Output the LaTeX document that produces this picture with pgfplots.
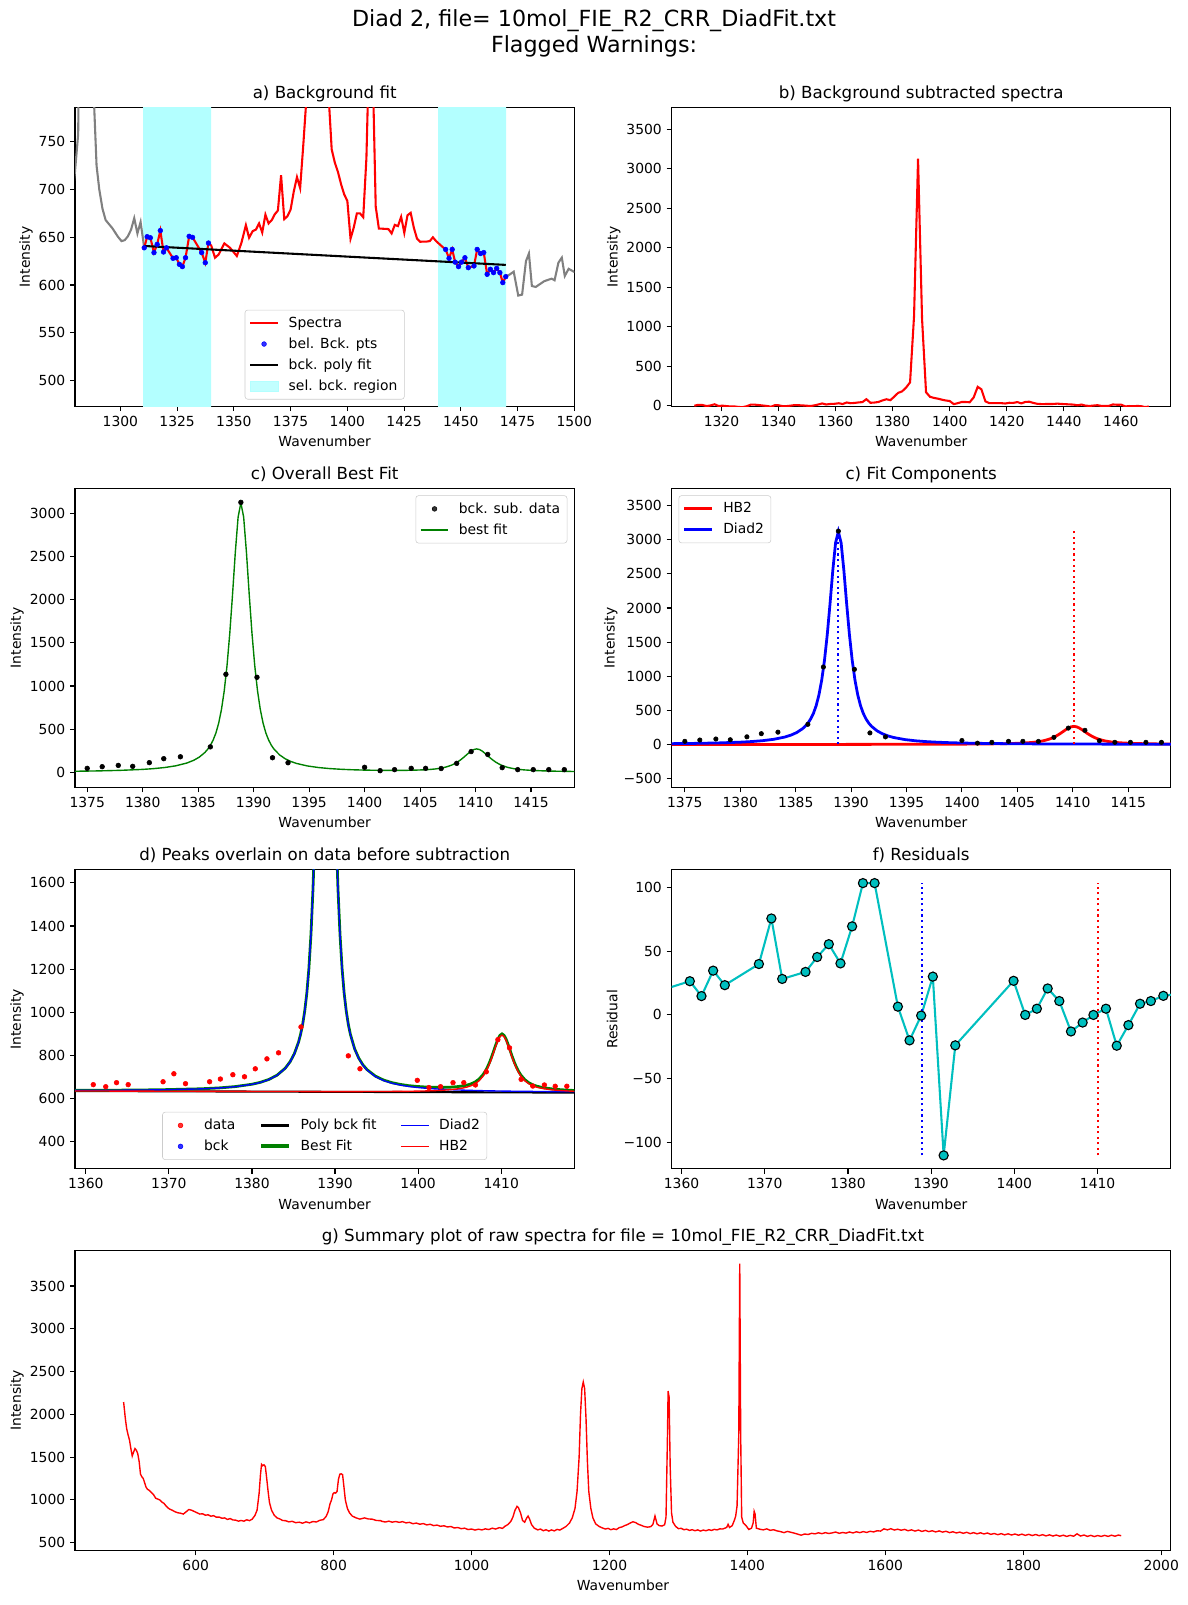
\documentclass[border=0pt]{standalone}
\usepackage{fontspec}
\setmainfont{DejaVu Sans}
\usepackage{pgfplots}
\usepackage{pgfplotstable}
\pgfplotsset{compat=1.18}

\definecolor{mplcyan}{HTML}{00BFBF}
\definecolor{bckband}{HTML}{B3FFFF}
\definecolor{mplgreen}{HTML}{008000}
\definecolor{mplgray}{HTML}{808080}
\definecolor{legendedge}{HTML}{CCCCCC}

\newcommand{\tickfont}{\fontsize{10}{12}\selectfont}

% legend handles 20pt long; a mark-only series shows one mark in the middle
\pgfplotsset{legend image code/.code={%
  \path[draw=none, fill=none] (0pt,-1pt) rectangle (20pt,1pt);
  \draw[mark repeat=2,mark phase=2,#1] plot coordinates {(0pt,0pt) (10pt,0pt) (20pt,0pt)};}}

% fitted model on a common grid: x, Diad2 (D), HB2 (H), sum (F), polynomial background (P),
% and the same components with the background added (DP, HP, FP)
\pgfplotstableread{
x D H F P DP HP FP
1358.7 2.9 0.2 3.1 635.1 638.0 635.3 638.2
1363.85 4.2 0.25 4.5 634.4 638.6 634.7 638.9
1368.85 6.6 0.3 6.9 633.8 640.4 634.1 640.7
1373.85 11.7 0.37 12.1 633.2 644.9 633.6 645.3
1376.0 15.9 0.4 16.3 632.9 648.8 633.3 649.2
1378.0 22.3 0.45 22.8 632.7 655.0 633.2 655.5
1380.0 33.4 0.5 33.9 632.5 665.9 633.0 666.4
1381.0 42.2 0.55 42.8 632.3 674.5 632.9 675.1
1382.0 55.2 0.6 55.8 632.2 687.4 632.8 688.0
1383.0 75.0 0.65 75.7 632.1 707.1 632.8 707.8
1384.0 107.7 0.7 108.4 632.0 739.7 632.7 740.4
1384.6 138.4 0.75 139.2 631.9 770.3 632.7 771.1
1385.1 175.2 0.8 176.0 631.8 807.0 632.6 807.8
1385.6 228.4 0.8 229.2 631.8 860.2 632.6 861.0
1385.85 265 0.8 265.8 631.7 896.7 632.5 897.5
1386.1 311 0.8 311.8 631.7 942.7 632.5 943.5
1386.35 373 0.8 373.8 631.7 1004.7 632.5 1005.5
1386.6 455 0.8 455.8 631.6 1086.6 632.4 1087.4
1386.85 569 0.8 569.8 631.6 1200.6 632.4 1201.4
1387.1 727 0.9 727.9 631.6 1358.6 632.5 1359.5
1387.35 943 0.9 943.9 631.6 1574.6 632.5 1575.5
1387.6 1234 0.9 1234.9 631.5 1865.5 632.4 1866.4
1387.85 1610 0.9 1610.9 631.5 2241.5 632.4 2242.4
1388.1 2063 0.9 2063.9 631.5 2694.5 632.4 2695.4
1388.35 2550 0.9 2550.9 631.4 3181.4 632.3 3182.3
1388.6 2956 0.9 2956.9 631.4 3587.4 632.3 3588.3
1388.85 3120 0.9 3120.9 631.4 3751.4 632.3 3752.3
1389.1 2956 0.9 2956.9 631.4 3587.4 632.3 3588.3
1389.35 2550 0.9 2550.9 631.3 3181.3 632.2 3182.2
1389.6 2063 1.0 2064.0 631.3 2694.3 632.3 2695.3
1389.85 1610 1.0 1611.0 631.3 2241.3 632.3 2242.3
1390.1 1234 1.0 1235.0 631.2 1865.2 632.2 1866.2
1390.35 943 1.0 944.0 631.2 1574.2 632.2 1575.2
1390.6 727 1.1 728.1 631.2 1358.2 632.3 1359.3
1390.85 569 1.1 570.1 631.2 1200.2 632.3 1201.3
1391.1 455 1.1 456.1 631.1 1086.1 632.2 1087.2
1391.35 373 1.2 374.2 631.1 1004.1 632.3 1005.3
1391.6 311 1.2 312.2 631.1 942.1 632.3 943.3
1391.85 265 1.4 266.4 631.0 896.0 632.4 897.4
1392.35 199 1.5 200.5 631.0 830.0 632.5 831.5
1392.85 155 1.6 156.6 630.9 785.9 632.5 787.5
1393.35 124 1.7 125.7 630.8 754.8 632.5 756.5
1393.85 101.6 1.8 103.4 630.8 732.4 632.6 734.2
1394.85 71.5 2.0 73.5 630.6 702.1 632.6 704.1
1395.85 52.9 2.3 55.2 630.5 683.4 632.8 685.7
1396.85 40.7 2.6 43.3 630.4 671.1 633.0 673.7
1397.85 32.3 3.0 35.3 630.3 662.6 633.3 665.6
1398.85 26.2 3.5 29.7 630.1 656.3 633.6 659.8
1399.85 21.7 4.5 26.2 630.0 651.7 634.5 656.2
1400.85 18.3 5.4 23.7 629.9 648.2 635.3 653.6
1401.85 15.6 6.8 22.4 629.8 645.4 636.6 652.2
1402.85 13.4 8.7 22.1 629.6 643.0 638.3 651.7
1403.85 11.7 11.5 23.2 629.5 641.2 641.0 652.7
1404.6 10.7 14.7 25.4 629.4 640.1 644.1 654.8
1405.35 9.8 19.3 29.1 629.4 639.2 648.7 658.5
1405.85 9.1 23.7 32.8 629.3 638.4 653.0 662.1
1406.35 8.7 29.9 38.6 629.2 637.9 659.1 667.8
1406.85 8.2 39.3 47.5 629.2 637.4 668.5 676.7
1407.35 7.8 53.8 61.6 629.1 636.9 682.9 690.7
1407.85 7.3 76.3 83.6 629.1 636.4 705.4 712.7
1408.1 7.1 91.8 98.9 629.0 636.1 720.8 727.9
1408.35 7.0 110.4 117.4 629.0 636.0 739.4 746.4
1408.6 6.8 132.5 139.3 629.0 635.8 761.5 768.3
1408.85 6.6 157.9 164.5 628.9 635.5 786.8 793.4
1409.1 6.5 186.0 192.5 628.9 635.4 814.9 821.4
1409.35 6.4 214.2 220.6 628.9 635.3 843.1 849.5
1409.6 6.3 240.0 246.3 628.8 635.1 868.8 875.1
1409.85 6.1 258.3 264.4 628.8 634.9 887.1 893.2
1410.1 6.0 265.0 271.0 628.8 634.8 893.8 899.8
1410.35 5.9 258.3 264.2 628.7 634.6 887.0 892.9
1410.6 5.8 240.0 245.8 628.7 634.5 868.7 874.5
1410.85 5.7 214.2 219.9 628.7 634.4 842.9 848.6
1411.1 5.6 186.0 191.6 628.6 634.2 814.6 820.2
1411.35 5.5 157.9 163.4 628.6 634.1 786.5 792.0
1411.6 5.4 132.5 137.9 628.6 634.0 761.1 766.5
1411.85 5.3 110.4 115.7 628.5 633.8 738.9 744.2
1412.1 5.2 91.8 97.0 628.5 633.7 720.3 725.5
1412.35 5.1 76.3 81.4 628.5 633.6 704.8 709.9
1412.85 5.0 53.8 58.8 628.4 633.4 682.2 687.2
1413.35 4.9 39.3 44.2 628.4 633.3 667.7 672.6
1413.85 4.7 29.9 34.6 628.3 633.0 658.2 662.9
1414.35 4.6 23.7 28.3 628.3 632.9 652.0 656.6
1415.1 4.4 17.5 21.9 628.2 632.6 645.7 650.1
1416.1 4.2 12.5 16.7 628.1 632.3 640.6 644.8
1417.1 4.0 9.3 13.3 627.9 631.9 637.2 641.2
1418.1 3.8 7.2 11.0 627.8 631.6 635.0 638.8
1418.9 3.6 6.0 9.6 627.7 631.3 633.7 637.3
}\fitgrid

% background-subtracted points used in the fit
\pgfplotstableread{
x y
1375.0 46
1376.35 65
1377.8 80
1379.1 69
1380.6 112
1381.9 158
1383.4 180
1386.1 295
1387.5 1135
1388.85 3127
1390.3 1101
1391.7 169
1393.1 111
1400.0 58
1401.4 19
1402.7 31
1404.2 46
1405.5 46
1406.9 44
1408.3 104
1409.6 240
1411.1 207
1412.4 54
1413.8 31
1415.2 31
1416.6 31
1418.0 31
}\subdata

\pgfplotsset{
  panel/.style={
    scale only axis, width=359.5pt, height=215.3pt, anchor=north west,
    axis line style={line width=0.8pt},
    tick style={black, line width=0.8pt},
    tick align=outside, tick pos=left,
    major tick length=3.5pt,
    tick label style={font=\tickfont},
    label style={font=\tickfont},
    ylabel style={inner sep=0.8pt},
    title style={font=\fontsize{12}{14}\selectfont, at={(0.5,1)}, anchor=base, yshift=0.5pt},
    /pgf/number format/assume math mode=true,
    /pgf/number format/1000 sep={},
    scaled ticks=false,
    xlabel={Wavenumber}, ylabel={Intensity},
    legend cell align=left,
    legend style={font=\tickfont, draw=legendedge, rounded corners=2pt, fill=white,
      fill opacity=0.8, draw opacity=1, text opacity=1, inner xsep=3pt, inner ysep=3pt, row sep=2pt,
      /tikz/every odd column/.append style={column sep=5pt}},
  },
  mpldot/.style={only marks, mark=*, mark size=1.7pt},
}

\begin{document}
\begin{tikzpicture}
\path[use as bounding box] (0,0) rectangle (855.36pt,-1155.6pt);

\node[font=\fontsize{16}{19}\selectfont, anchor=base] at (427.7pt,-19.2pt) {Diad 2, file= 10mol\_FIE\_R2\_CRR\_DiadFit.txt};
\node[font=\fontsize{16}{19}\selectfont, anchor=base] at (427.7pt,-37.7pt) {Flagged Warnings:};

% ---------------- a) background fit
\begin{axis}[panel, at={(54.0pt,-77.3pt)},
  title={a) Background fit},
  xmin=1280, xmax=1500, ymin=473, ymax=786,
  xtick={1300,1325,...,1500}, ytick={500,550,...,750},
  legend style={at={(0.5,0.023)}, anchor=south}]
\addplot[fill=bckband, draw=none, forget plot] coordinates {(1310,400) (1340,400) (1340,900) (1310,900) (1310,400)};
\addplot[fill=bckband, draw=none, forget plot] coordinates {(1440,400) (1470,400) (1470,900) (1440,900) (1440,400)};
\addplot[mplgray, line width=1.5pt, forget plot] coordinates {
(1278.6,690)(1280.0,719)(1281.4,758)(1282.8,1100)(1284.2,1900)(1285.6,2270)(1287.0,1400)
(1288.4,790)(1289.5,725)(1290.7,700)(1292.1,680)(1293.5,668)(1294.9,664)(1296.3,660)
(1297.7,655)(1299.1,650)(1300.5,646)(1301.9,647)(1303.3,651)(1304.7,658)(1306.1,670)
(1307.5,654)(1308.9,666)(1310.5,639)};
\addplot[mplgray, line width=1.5pt, forget plot] coordinates {
(1469.8,608.8)(1471.5,611)(1473.3,614)(1475.3,589)(1477,590)(1478.7,625)(1480,633)
(1481.3,599)(1483,598)(1486.7,604)(1490,606.7)(1491.3,605)(1493,623.4)(1494.5,628.7)
(1495.8,609.5)(1497.5,617)(1500,613.7)(1501.4,612)};
\addplot[red, line width=1.5pt] coordinates {
(1310.5,639)(1311.8,650.6)(1313.2,649.5)(1314.8,634)(1316.2,642.6)(1317.6,657)(1319.0,634.6)
(1320.3,639)(1323.2,628)(1324.6,628.6)(1326.0,621.7)(1327.3,619.3)(1328.7,628.6)(1330.3,651)
(1331.8,649.9)(1335.8,634)(1337.4,623.4)(1338.8,644)(1340.0,641.5)(1341.7,628.6)(1343.3,632)
(1345.8,643.6)(1348.3,639)(1351.3,630.4)(1353.3,644)(1355.3,662.7)(1356.7,649.5)(1358.3,656.5)
(1359.7,658)(1361.1,664.5)(1362.5,655)(1363.9,673.7)(1365.3,664.5)(1366.7,668)(1368.0,674)
(1369.4,678)(1370.8,715)(1372.2,669)(1373.6,672)(1375.0,679)(1376.4,698)(1377.8,713)
(1379.2,701.5)(1380.6,747)(1381.9,793)(1383.3,812)(1384.7,860)(1386.1,926)(1387.5,1766)
(1388.9,3758)(1390.3,1732)(1391.7,800)(1393.1,742)(1394.5,728)(1395.9,718)(1397.3,705)
(1398.6,695)(1400.0,688)(1401.4,648.5)(1402.8,660)(1404.2,675)(1405.6,675)(1407.0,671)
(1408.4,733)(1409.8,866.5)(1411.1,835)(1412.5,682)(1413.9,659)(1415.3,659)(1416.7,658.8)
(1418.1,658.6)(1419.5,654)(1420.9,663)(1422.3,661.7)(1423.7,671.4)(1425.1,654.7)(1426.5,673)
(1427.9,675.6)(1429.3,660)(1430.7,648.5)(1432.1,645.3)(1433.5,645.5)(1434.9,645.5)(1436.3,646)
(1437.7,650)(1439.1,646)(1440.5,643)(1441.9,640)(1443.3,637.3)(1444.8,628)(1446.2,637.3)
(1447.5,624)(1449.0,619.3)(1450.3,624)(1451.8,628.6)(1453.3,618.2)(1455.8,620)(1457.2,637.3)
(1458.7,633)(1460.1,634)(1461.6,611.3)(1463.0,616.5)(1464.4,613)(1465.8,617.5)(1467.2,613)
(1468.5,602.6)(1469.8,608.8)};
\addlegendentry{Spectra}
\addplot[mpldot, blue] coordinates {
(1310.5,639)(1311.8,650.6)(1313.2,649.5)(1314.8,634)(1316.2,642.6)(1317.6,657)(1319.0,634.6)
(1320.3,639)(1323.2,628)(1324.6,628.6)(1326.0,621.7)(1327.3,619.3)(1328.7,628.6)(1330.3,651)
(1331.8,649.9)(1335.8,634)(1337.4,623.4)(1338.8,644)
(1443.3,637.3)(1444.8,628)(1446.2,637.3)(1447.5,624)(1449.0,619.3)(1450.3,624)(1451.8,628.6)
(1453.3,618.2)(1455.8,620)(1457.2,637.3)(1458.7,633)(1460.1,634)(1461.6,611.3)(1463.0,616.5)
(1464.4,613)(1465.8,617.5)(1467.2,613)(1468.5,602.6)(1469.8,608.8)};
\addlegendentry{bel. Bck. pts}
\addplot[black, line width=1.5pt] coordinates {(1310.5,640.9) (1469.8,621.1)};
\addlegendentry{bck. poly fit}
\addlegendimage{legend image code/.code={\fill[bckband, sharp corners] (0pt,-3.5pt) rectangle (20pt,3.5pt);}}
\addlegendentry{sel. bck. region}
\end{axis}

% ---------------- b) background subtracted
\begin{axis}[panel, at={(483.5pt,-77.3pt)},
  title={b) Background subtracted spectra},
  xmin=1302.5, xmax=1477.5, ymin=-10, ymax=3778,
  xtick={1320,1340,...,1460}, ytick={0,500,...,3500}]
\addplot[red, line width=1.5pt] coordinates {
(1310.5,-1.9)(1311.8,9.8)(1313.2,8.9)(1314.8,-6.4)(1316.2,2.4)(1317.6,16.9)(1319.0,-5.3)
(1320.3,-0.7)(1323.2,-11.4)(1324.6,-10.6)(1326.0,-17.3)(1327.3,-19.6)(1328.7,-10.1)(1330.3,12.5)
(1331.8,11.6)(1335.8,-3.9)(1337.4,-14.3)(1338.8,6.5)(1340.0,4.2)(1341.7,-8.5)(1343.3,-4.9)
(1345.8,7.0)(1348.3,2.7)(1351.3,-5.5)(1353.3,8.3)(1355.3,27.2)(1356.7,14.2)(1358.3,21.4)
(1359.7,23.1)(1361.1,29.7)(1362.5,20.4)(1363.9,39.3)(1365.3,30.2)(1366.7,33.9)(1368.0,40.1)
(1369.4,44.2)(1370.8,81.4)(1372.2,35.6)(1373.6,38.8)(1375.0,45.9)(1376.4,65.1)(1377.8,80.3)
(1379.2,69.0)(1380.6,114.6)(1381.9,160.8)(1383.3,180.0)(1384.7,228.0)(1386.1,294.3)(1387.5,1134.5)
(1388.9,3126.7)(1390.3,1100.9)(1391.7,169.0)(1393.1,111.2)(1394.5,97.4)(1395.9,87.6)(1397.3,74.7)
(1398.6,64.9)(1400.0,58.1)(1401.4,18.8)(1402.8,30.4)(1404.2,45.6)(1405.6,45.8)(1407.0,42.0)
(1408.4,104.1)(1409.8,237.8)(1411.1,206.5)(1412.5,53.6)(1413.9,30.8)(1415.3,31.0)(1416.7,31.0)
(1418.1,31.0)(1419.5,26.5)(1420.9,35.7)(1422.3,34.6)(1423.7,44.5)(1425.1,28.0)(1426.5,46.4)
(1427.9,49.2)(1429.3,33.8)(1430.7,22.5)(1432.1,19.4)(1433.5,19.8)(1434.9,20.0)(1436.3,20.7)
(1437.7,24.8)(1439.1,21.0)(1440.5,18.2)(1441.9,15.4)(1443.3,12.9)(1444.8,3.7)(1446.2,13.2)
(1447.5,0.1)(1449.0,-4.4)(1450.3,0.4)(1451.8,5.2)(1453.3,-5.0)(1455.8,-2.9)(1457.2,14.6)
(1458.7,10.5)(1460.1,11.7)(1461.6,-10.8)(1463.0,-5.5)(1464.4,-8.8)(1465.8,-4.1)(1467.2,-8.4)
(1468.5,-18.7)(1469.8,-12.3)};
\end{axis}

% ---------------- c) overall best fit
\begin{axis}[panel, at={(54.0pt,-351.7pt)},
  title={c) Overall Best Fit},
  xmin=1373.9, xmax=1418.9, ymin=-176, ymax=3288,
  xtick={1375,1380,...,1415}, ytick={0,500,...,3000},
  legend style={at={(0.986,0.977)}, anchor=north east}]
\addplot[mpldot, black] table[x=x, y=y] {\subdata};
\addlegendentry{bck. sub. data}
\addplot[mplgreen, line width=1pt] table[x=x, y=F] {\fitgrid};
\addlegendentry{best fit}
\end{axis}

% ---------------- c) fit components
\begin{axis}[panel, at={(483.5pt,-351.7pt)},
  title={c) Fit Components},
  xmin=1373.8, xmax=1418.85, ymin=-631, ymax=3752,
  xtick={1375,1380,...,1415}, ytick={-500,0,500,...,3500},
  yticklabels={−500,0,500,1000,1500,2000,2500,3000,3500},
  legend style={at={(0.014,0.977)}, anchor=north west}]
\addplot[red, line width=2pt] table[x=x, y=H] {\fitgrid};
\addlegendentry{HB2}
\addplot[blue, line width=2pt] table[x=x, y=D] {\fitgrid};
\addlegendentry{Diad2}
\addplot[mpldot, black, mark size=1.6pt, forget plot] table[x=x, y=y] {\subdata};
\addplot[blue, line width=1.5pt, dash pattern=on 1.5pt off 2.5pt, forget plot] coordinates {(1388.85,0) (1388.85,3127)};
\addplot[red, line width=1.5pt, dash pattern=on 1.5pt off 2.5pt, forget plot] coordinates {(1410.1,0) (1410.1,3127)};
\end{axis}

% ---------------- d) peaks on raw data
\begin{axis}[panel, at={(54.0pt,-626.3pt)},
  title={d) Peaks overlain on data before subtraction},
  xmin=1358.7, xmax=1418.8, ymin=274, ymax=1660,
  xtick={1360,1370,...,1410}, ytick={400,600,...,1600},
  legend columns=3,
  legend style={at={(0.5,0.03)}, anchor=south, /tikz/every even column/.append style={column sep=15pt}}]
\addplot[mpldot, red, forget plot] coordinates {
(1360.9,664.5)(1362.4,655)(1363.7,673.7)(1365.1,664.5)(1369.3,678)(1370.6,715)(1372.0,669)
(1374.9,678)(1376.2,690.6)(1377.7,710.6)(1379.1,701)(1380.4,738)(1381.8,784)(1383.2,812)
(1385.9,932)(1387.5,1766)(1388.85,3758)(1390.3,1732)(1391.6,798)(1393.0,738)(1399.9,684.5)
(1401.3,651)(1402.7,655)(1404.2,673.7)(1405.5,673.7)(1406.9,663)(1408.2,724)(1409.6,873)
(1411.0,835)(1412.4,689)(1413.8,658)(1415.2,663)(1416.5,657)(1417.9,657)};
\addplot[black, line width=1.5pt, forget plot] table[x=x, y=P] {\fitgrid};
\addplot[mplgreen, line width=2pt, forget plot] table[x=x, y=FP] {\fitgrid};
\addplot[blue, line width=1pt, forget plot] table[x=x, y=DP] {\fitgrid};
\addplot[red, line width=1pt, forget plot] table[x=x, y=HP] {\fitgrid};
\addlegendimage{mpldot, red}\addlegendentry{data}
\addlegendimage{black, line width=2pt}\addlegendentry{Poly bck fit}
\addlegendimage{blue, line width=1pt}\addlegendentry{Diad2}
\addlegendimage{mpldot, blue}\addlegendentry{bck}
\addlegendimage{mplgreen, line width=3pt}\addlegendentry{Best Fit}
\addlegendimage{red, line width=1pt}\addlegendentry{HB2}
\end{axis}

% ---------------- f) residuals
\begin{axis}[panel, at={(483.5pt,-626.3pt)},
  title={f) Residuals}, ylabel={Residual},
  xmin=1358.8, xmax=1418.8, ymin=-121, ymax=114,
  xtick={1360,1370,...,1410}, ytick={-100,-50,0,50,100},
  yticklabels={−100,−50,0,50,100}]
\addplot[mplcyan, line width=1.5pt, mark=*, mark size=3.3pt,
  mark options={fill=mplcyan, draw=black, line width=0.8pt}] coordinates {
(1357.6,19.5)(1361.0,26.5)(1362.4,14.8)(1363.8,34.8)(1365.2,23.4)(1369.3,40)(1370.8,75.8)
(1372.1,28.3)(1374.9,33.8)(1376.3,45.5)(1377.7,55.6)(1379.1,40.5)(1380.5,69.6)(1381.8,103.6)
(1383.2,103.6)(1386.0,6.5)(1387.4,-20)(1388.8,-0.5)(1390.2,30.1)(1391.5,-110.4)(1392.9,-23.9)
(1399.9,26.8)(1401.3,0)(1402.7,4.9)(1404.0,20.8)(1405.4,10.9)(1406.8,-13)(1408.2,-6)
(1409.5,0)(1411.0,4.9)(1412.3,-24.2)(1413.7,-8)(1415.1,8.8)(1416.4,10.9)(1417.9,15)(1419.4,16.4)};
\addplot[blue, line width=1.5pt, dash pattern=on 1.5pt off 2.5pt] coordinates {(1388.85,-110.4) (1388.85,103.6)};
\addplot[red, line width=1.5pt, dash pattern=on 1.5pt off 2.5pt] coordinates {(1410.1,-110.4) (1410.1,103.6)};
\end{axis}

% ---------------- g) whole raw spectrum
\begin{axis}[panel, at={(54.0pt,-900.3pt)}, width=789.0pt, height=216pt,
  title={g) Summary plot of raw spectra for file = 10mol\_FIE\_R2\_CRR\_DiadFit.txt},
  xmin=425, xmax=2014, ymin=410, ymax=3915,
  xtick={600,800,...,2000}, ytick={500,1000,...,3500}]
\addplot[red, line width=1pt] coordinates {
(495.5,2144)(498,1950)(500,1830)(502,1760)(504,1700)(506,1600)(508,1513)(510,1560)(512,1600)
(514,1580)(516,1540)(518,1450)(520,1300)(522,1270)(524,1250)(526,1200)(528,1150)(530,1125)
(533,1110)(536,1085)(539,1060)(542,1020)(545,1010)(548,1000)(551,975)(554,960)(557,930)
(560,905)(563,890)(566,880)(570,862)(574,850)(578,845)(582,835)(586,860)(590,888)(594,880)
(598,865)(602,850)(606,835)(610,838)(614,822)(618,826)(622,810)(626,816)(630,798)(634,800)
(638,786)(642,790)(646,772)(650,782)(654,766)(658,764)(662,752)(666,760)(670,752)(674,768)
(678,758)(682,776)(686,820)(689,880)(692,1080)(694,1300)(695.5,1415)(697,1400)(699,1410)
(701,1390)(703,1250)(705,1100)(707,970)(710,880)(714,820)(718,790)(722,778)(726,760)
(730,758)(735,744)(740,750)(745,734)(750,740)(755,728)(760,744)(765,732)(770,748)(775,742)
(780,762)(785,770)(789,805)(792,860)(795,960)(797,1000)(799,1070)(801,1085)(803,1080)
(805,1100)(807,1240)(809,1300)(811,1305)(813,1295)(815,1150)(817,1000)(820,900)(823,850)
(827,812)(832,792)(838,776)(845,790)(850,778)(856,775)(862,760)(868,758)(870,750)(875,742)
(880,752)(885,740)(890,748)(895,738)(900,746)(905,732)(910,738)(915,722)(920,730)(925,716)
(930,724)(935,708)(940,716)(945,700)(950,706)(955,692)(960,698)(965,684)(970,690)(975,672)
(980,678)(985,664)(990,670)(995,654)(1000,660)(1005,648)(1010,658)(1015,650)(1020,662)
(1025,654)(1030,670)(1035,660)(1040,676)(1045,668)(1048,690)(1053,714)(1057,750)(1060,800)
(1063,880)(1066,925)(1068,910)(1071,850)(1074,760)(1077,740)(1080,790)(1082,812)(1084,780)
(1087,712)(1091,670)(1096,650)(1100,660)(1104,640)(1108,652)(1112,636)(1116,650)(1120,638)
(1124,656)(1128,648)(1132,666)(1137,690)(1142,730)(1146,790)(1150,900)(1153,1100)(1156,1500)
(1158,2000)(1160,2300)(1162,2378)(1164,2300)(1166,1950)(1168,1450)(1170,1100)(1173,900)
(1176,790)(1180,720)(1185,690)(1190,672)(1194,660)(1198,668)(1202,652)(1206,662)(1210,654)
(1214,676)(1218,684)(1222,700)(1226,712)(1230,730)(1234,745)(1238,735)(1242,715)(1246,704)
(1250,690)(1255,682)(1260,688)(1263,715)(1266,812)(1269,720)(1272,700)(1276,695)(1280,710)
(1282,800)(1284,1700)(1285,2272)(1286.5,2200)(1288,1400)(1290,850)(1292,740)(1296,690)
(1300,665)(1304,668)(1308,652)(1312,658)(1316,644)(1320,652)(1324,640)(1328,650)(1332,636)
(1336,648)(1340,640)(1344,652)(1348,644)(1352,656)(1356,650)(1360,662)(1364,660)(1368,672)
(1370,680)(1372,715)(1374,678)(1378,700)(1381,760)(1383,810)(1385,930)(1387.5,1767)
(1388.9,3760)(1390.3,1732)(1391.7,800)(1394,730)(1398,700)(1402,655)(1406,670)(1408.4,733)
(1409.8,866)(1411.1,835)(1413,670)(1418,658)(1423,650)(1428,662)(1433,645)(1438,652)
(1443,638)(1448,630)(1453,618)(1458,632)(1463,622)(1468,612)(1473,600)(1478,588)(1483,602)
(1488,596)(1493,610)(1498,604)(1503,616)(1508,606)(1513,618)(1518,608)(1523,615)(1528,625)
(1533,610)(1538,620)(1543,612)(1548,626)(1553,614)(1558,628)(1563,618)(1568,630)(1573,620)
(1578,634)(1583,626)(1588,640)(1593,636)(1598,662)(1603,650)(1608,664)(1613,648)(1618,658)
(1623,646)(1628,656)(1633,640)(1638,650)(1643,636)(1648,648)(1653,632)(1658,644)(1663,630)
(1668,640)(1673,626)(1678,638)(1683,624)(1688,634)(1693,618)(1698,628)(1703,614)(1708,624)
(1713,610)(1718,622)(1723,606)(1728,618)(1733,604)(1738,616)(1743,602)(1748,614)(1753,598)
(1758,608)(1763,594)(1768,606)(1773,592)(1778,604)(1783,590)(1788,602)(1793,588)(1798,600)
(1803,586)(1808,598)(1813,584)(1818,596)(1823,582)(1828,594)(1833,580)(1838,592)(1843,578)
(1848,590)(1853,576)(1858,588)(1863,574)(1868,586)(1873,576)(1878,604)(1883,578)(1888,590)
(1893,574)(1898,586)(1903,572)(1908,584)(1913,574)(1918,586)(1923,574)(1928,588)(1933,576)
(1938,590)(1942,582)};
\end{axis}
\end{tikzpicture}
\end{document}
